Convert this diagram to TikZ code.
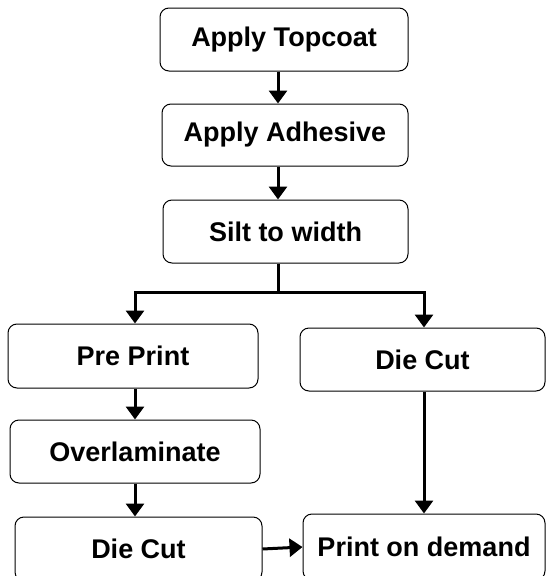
\documentclass[tikz,border=0pt]{standalone}
\usepackage{fontspec}
\setmainfont{Liberation Sans}
\usetikzlibrary{arrows.meta}
\tikzset{
  box/.style={draw=black, line width=1pt, rounded corners=9pt, fill=white,
    inner sep=0pt, font=\fontsize{27}{32}\selectfont\bfseries},
  conn/.style={line width=3pt, -{Triangle[width=18pt,length=13pt]}},
  line/.style={line width=3pt}
}
\begin{document}
\begin{tikzpicture}[x=1pt,y=-1pt]
\clip (0,0) rectangle (546,576);
\fill[white] (0,0) rectangle (546,576);
\node[box, minimum width=248pt, minimum height=63pt] (t1) at (284,39.5) {Apply Topcoat};
\node[box, minimum width=246pt, minimum height=62pt] (t2) at (285,135) {Apply Adhesive};
\node[box, minimum width=245pt, minimum height=63pt] (t3) at (285.5,231.5) {Silt to width};
\node[box, minimum width=250pt, minimum height=64pt] (pp) at (133,356) {Pre Print};
\node[box, minimum width=245pt, minimum height=63pt] (dcr) at (422.5,359.5) {Die Cut};
\node[box, minimum width=250pt, minimum height=63pt] (ov) at (135,451.5) {Overlaminate};
\node[box, minimum width=247pt, minimum height=64pt] (dcl) at (138.5,549) {Die Cut};
\node[box, minimum width=242pt, minimum height=66pt] (pod) at (424,547) {Print on demand};
\coordinate (xm) at (278,0);
\coordinate (xl) at (135,0);
\coordinate (xr) at (424,0);
\coordinate (split) at (278,292);
\draw[conn] (t1.south -| xm) -- (t2.north -| xm);
\draw[conn] (t2.south -| xm) -- (t3.north -| xm);
\draw[line] (t3.south -| xm) -- (split);
\draw[conn] (split) -| (pp.north -| xl);
\draw[conn] (split) -| (dcr.north -| xr);
\draw[conn] (pp.south -| xl) -- (ov.north -| xl);
\draw[conn] (ov.south -| xl) -- (dcl.north -| xl);
\draw[conn] (dcr.south -| xr) -- (pod.north -| xr);
\draw[conn] (dcl.east) -- (pod.west);
\end{tikzpicture}
\end{document}
